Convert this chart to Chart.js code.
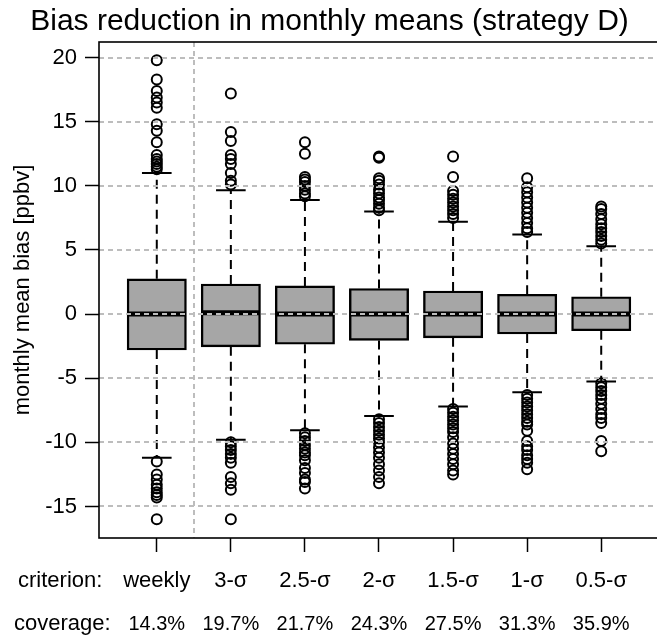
<!DOCTYPE html>
<html>
<head>
<meta charset="utf-8">
<script src="https://cdn.jsdelivr.net/npm/chart.js@4"></script>
<style>
  html, body { margin: 0; padding: 0; background: #fff; overflow: hidden; }
  #wrap { width: 670px; height: 640px; }
</style>
</head>
<body>
<div id="wrap"><canvas id="biasChart" width="670" height="640"></canvas></div>
<script>
/* ── Data ── */
const categories   = ['weekly', '3-σ', '2.5-σ', '2-σ', '1.5-σ', '1-σ', '0.5-σ'];
const coverage     = ['14.3%', '19.7%', '21.7%', '24.3%', '27.5%', '31.3%', '35.9%'];
const lowerWhisker = [-11.2, -9.8, -9.05, -7.95, -7.2, -6.1, -5.25];
const q1           = [-2.8, -2.55, -2.35, -2.05, -1.85, -1.55, -1.3];
const median       = [0.0, 0.1, 0.0, 0.0, 0.0, 0.0, 0.0];
const q3           = [2.75, 2.35, 2.2, 2.0, 1.8, 1.55, 1.35];
const upperWhisker = [11.0, 9.65, 8.9, 8.0, 7.2, 6.2, 5.3];
const outliers = [
  [19.8, 18.3, 17.4, 16.9, 16.5, 16.1, 14.8, 14.3, 13.4, 12.4, 12.1, 11.9, 11.7, 11.5, 11.3,
   -11.5, -12.5, -12.9, -13.3, -13.6, -13.9, -14.1, -14.3, -16.0],
  [17.2, 14.2, 13.5, 12.4, 12.1, 11.7, 11.0, 10.4, 10.1,
   -10.0, -10.3, -10.6, -10.9, -11.2, -11.6, -12.7, -13.2, -13.7, -16.0],
  [13.4, 12.5, 10.7, 10.5, 10.3, 10.0, 9.7, 9.4, 9.2,
   -9.3, -9.6, -9.9, -10.2, -10.5, -10.8, -11.0, -11.4, -12.0, -12.4, -12.9, -13.1, -13.6],
  [12.3, 12.2, 10.6, 10.4, 10.1, 9.7, 9.4, 9.1, 8.9, 8.6, 8.3, 8.1,
   -8.2, -8.5, -8.8, -9.1, -9.4, -9.7, -10.0, -10.4, -10.8, -11.2, -11.7, -12.2, -12.7, -13.2],
  [12.3, 10.7, 9.6, 9.3, 9.0, 8.7, 8.4, 8.1, 7.8, 7.5,
   -7.4, -7.7, -8.0, -8.3, -8.6, -8.9, -9.2, -9.6, -10.1, -10.5, -10.9, -11.3, -11.7, -12.2, -12.5],
  [10.6, 9.9, 9.5, 9.1, 8.7, 8.3, 7.9, 7.5, 7.1, 6.7, 6.4,
   -6.3, -6.6, -6.9, -7.2, -7.5, -7.8, -8.1, -8.4, -8.6, -9.1, -9.9, -10.3, -10.6, -11.0, -11.3, -11.6, -12.1],
  [8.4, 8.2, 7.8, 7.4, 7.0, 6.7, 6.4, 6.1, 5.8, 5.5,
   -5.4, -5.7, -6.0, -6.3, -6.6, -7.0, -7.4, -7.8, -8.1, -8.5, -9.9, -10.7],
];
const yTicks    = [-15, -10, -5, 0, 5, 10, 15, 20];
const separator = 1.5;   // dotted line between weekly and the sigma criteria

const FONT = "'Liberation Sans', Arial, Helvetica, sans-serif";
const GRID = '#bdbdbd';
const CAP_WIDTH = 0.4;

/* ── whiskers, medians, grid on top, frame, coverage row ── */
const boxDecor = {
  id: 'boxDecor',
  beforeDatasetsDraw(chart) {
    const { ctx, scales: { x, y } } = chart;
    ctx.save();
    ctx.strokeStyle = '#000';
    ctx.lineWidth = 2;
    categories.forEach((_, i) => {
      const cx = x.getPixelForValue(i + 1);
      const half = x.getPixelForValue(i + 1 + CAP_WIDTH / 2) - cx;
      ctx.setLineDash([9, 6]);
      ctx.beginPath();
      ctx.moveTo(cx, y.getPixelForValue(q3[i]));
      ctx.lineTo(cx, y.getPixelForValue(upperWhisker[i]));
      ctx.moveTo(cx, y.getPixelForValue(q1[i]));
      ctx.lineTo(cx, y.getPixelForValue(lowerWhisker[i]));
      ctx.stroke();
      ctx.setLineDash([]);
      ctx.beginPath();
      [upperWhisker[i], lowerWhisker[i]].forEach(v => {
        const py = y.getPixelForValue(v);
        ctx.moveTo(cx - half, py);
        ctx.lineTo(cx + half, py);
      });
      ctx.stroke();
    });
    ctx.restore();
  },
  afterDatasetsDraw(chart) {
    const { ctx, chartArea: a, scales: { x, y } } = chart;
    ctx.save();
    // medians
    ctx.strokeStyle = '#000';
    ctx.lineWidth = 5;
    categories.forEach((_, i) => {
      const cx = x.getPixelForValue(i + 1);
      const half = x.getPixelForValue(i + 1 + 0.4) - cx;
      const py = y.getPixelForValue(median[i]);
      ctx.beginPath();
      ctx.moveTo(cx - half + 1, py);
      ctx.lineTo(cx + half - 1, py);
      ctx.stroke();
    });
    // dotted grid, drawn over the boxes like in the original
    ctx.strokeStyle = GRID;
    ctx.lineWidth = 2;
    ctx.setLineDash([5, 4]);
    ctx.beginPath();
    yTicks.forEach(v => {
      const py = Math.round(y.getPixelForValue(v));
      ctx.moveTo(a.left, py);
      ctx.lineTo(a.right, py);
    });
    const sx = Math.round(x.getPixelForValue(separator));
    ctx.moveTo(sx, a.top);
    ctx.lineTo(sx, a.bottom);
    ctx.stroke();
    ctx.setLineDash([]);
    // frame
    ctx.strokeStyle = '#000';
    ctx.lineWidth = 1.6;
    ctx.strokeRect(a.left, a.top, a.right - a.left, a.bottom - a.top);
    // row headers and coverage row
    ctx.fillStyle = '#000';
    ctx.textBaseline = 'middle';
    ctx.font = '22px ' + FONT;
    ctx.textAlign = 'left';
    ctx.fillText('criterion:', 18, 581);
    ctx.fillText('coverage:', 14, 624);
    ctx.font = '20px ' + FONT;
    ctx.textAlign = 'center';
    coverage.forEach((c, i) => ctx.fillText(c, x.getPixelForValue(i + 1), 624));
    ctx.restore();
  }
};

const boxData = categories.map((_, i) => ({ x: i + 1, y: [q1[i], q3[i]] }));
const outlierData = outliers.flatMap((list, i) => list.map(v => ({ x: i + 1, y: v })));

new Chart(document.getElementById('biasChart'), {
  type: 'bar',
  data: {
    datasets: [
      {
        type: 'scatter',
        data: outlierData,
        pointStyle: 'circle',
        pointRadius: 5,
        pointBorderWidth: 2,
        pointBorderColor: '#000',
        pointBackgroundColor: 'rgba(0,0,0,0)',
        order: 1,
      },
      {
        type: 'bar',
        data: boxData,
        backgroundColor: '#a6a6a6',
        borderColor: '#000',
        borderWidth: 2.4,
        borderSkipped: false,
        barThickness: 59.3,
        order: 2,
      },
    ]
  },
  options: {
    responsive: false,
    animation: false,
    layout: { padding: { left: 0, right: 11, top: 0, bottom: 0 } },
    plugins: {
      legend: { display: false },
      tooltip: { enabled: false },
      title: {
        display: true,
        text: 'Bias reduction in monthly means (strategy D)',
        color: '#000',
        font: { family: FONT, size: 30, weight: 'normal', lineHeight: 1.2 },
        padding: { top: 4, bottom: 2 },
      },
    },
    scales: {
      x: {
        type: 'linear',
        offset: false,
        min: 0.22,
        max: 7.78,
        afterBuildTicks: s => { s.ticks = categories.map((_, i) => ({ value: i + 1 })); },
        afterFit: s => { s.height = 102; },
        grid: { offset: false, drawOnChartArea: false, tickLength: 14, tickColor: '#000', tickWidth: 1.5 },
        border: { display: false },
        ticks: {
          autoSkip: false, maxRotation: 0, padding: 16, color: '#000',
          font: { family: FONT, size: 22 },
          callback: v => categories[v - 1],
        },
      },
      y: {
        type: 'linear',
        min: -17.46,
        max: 21.22,
        afterBuildTicks: s => { s.ticks = yTicks.map(v => ({ value: v })); },
        afterFit: s => { s.width = 99; },
        grid: { drawOnChartArea: false, tickLength: 14, tickColor: '#000', tickWidth: 1.5 },
        border: { display: false },
        ticks: { padding: 8, color: '#000', font: { family: FONT, size: 22 } },
        title: {
          display: true,
          text: 'monthly mean bias [ppbv]',
          color: '#000',
          font: { family: FONT, size: 22, lineHeight: 1.2 },
          padding: { top: 10, bottom: 0 },
        },
      },
    },
  },
  plugins: [boxDecor],
});
</script>
</body>
</html>
